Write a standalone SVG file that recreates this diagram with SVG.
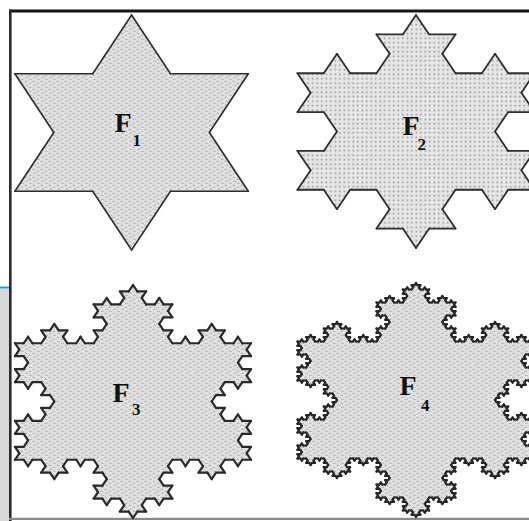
<svg xmlns="http://www.w3.org/2000/svg" width="529" height="521" viewBox="0 0 529 521">
<style>
.lbl{font-family:"Liberation Serif","Times New Roman",serif;font-weight:bold;fill:#111}
.F{font-size:28px}
.sub{font-size:17px}
.edge{fill:none;stroke-linecap:round;stroke-linejoin:round}
.mk{fill:#fff;stroke:#fff;stroke-width:0.8}
</style>
<defs>
<pattern id="tex" width="8" height="8" patternUnits="userSpaceOnUse">
<rect width="8" height="8" fill="#e2e2e2"/>
<path d="M0.5 2 l1.5 -1.2 l1.2 1.2 M4.5 4 l1.5 -1.2 l1.2 1.2 M1.3 6 l1.5 -1.2 l1.2 1.2 M5 8 l1.5 -1.2 l1.2 1.2 M5 0 l1.5 -1.2 l1.2 1.2" fill="none" stroke="#9c9c9c" stroke-width="0.8"/>
</pattern>
<pattern id="dots" width="4.5" height="4.5" patternUnits="userSpaceOnUse">
<rect width="4.5" height="4.5" fill="#e6e6e6"/>
<circle cx="2.25" cy="2.25" r="0.9" fill="#8f8f8f"/>
</pattern>
<path id="C0" d="M0 0H1" fill="none" vector-effect="non-scaling-stroke"/>
<g id="C1"><use href="#C0" transform="scale(0.33333333)"/><use href="#C0" transform="translate(0.33333333 0) rotate(-60) scale(0.33333333)"/><use href="#C0" transform="translate(0.5 -0.28867513) rotate(60) scale(0.33333333)"/><use href="#C0" transform="translate(0.66666667 0) scale(0.33333333)"/></g>
<g id="C2"><use href="#C1" transform="scale(0.33333333)"/><use href="#C1" transform="translate(0.33333333 0) rotate(-60) scale(0.33333333)"/><use href="#C1" transform="translate(0.5 -0.28867513) rotate(60) scale(0.33333333)"/><use href="#C1" transform="translate(0.66666667 0) scale(0.33333333)"/></g>
<g id="C3"><use href="#C2" transform="scale(0.33333333)"/><use href="#C2" transform="translate(0.33333333 0) rotate(-60) scale(0.33333333)"/><use href="#C2" transform="translate(0.5 -0.28867513) rotate(60) scale(0.33333333)"/><use href="#C2" transform="translate(0.66666667 0) scale(0.33333333)"/></g>
<g id="C4"><use href="#C3" transform="scale(0.33333333)"/><use href="#C3" transform="translate(0.33333333 0) rotate(-60) scale(0.33333333)"/><use href="#C3" transform="translate(0.5 -0.28867513) rotate(60) scale(0.33333333)"/><use href="#C3" transform="translate(0.66666667 0) scale(0.33333333)"/></g>
<path id="B1" d="M0.33333333 0L0.5 -0.28867513L0.66666667 0Z" vector-effect="non-scaling-stroke"/>
<g id="B2"><use href="#B1"/><use href="#B1" transform="scale(0.33333333)"/><use href="#B1" transform="translate(0.33333333 0) rotate(-60) scale(0.33333333)"/><use href="#B1" transform="translate(0.5 -0.28867513) rotate(60) scale(0.33333333)"/><use href="#B1" transform="translate(0.66666667 0) scale(0.33333333)"/></g>
<g id="B3"><use href="#B1"/><use href="#B2" transform="scale(0.33333333)"/><use href="#B2" transform="translate(0.33333333 0) rotate(-60) scale(0.33333333)"/><use href="#B2" transform="translate(0.5 -0.28867513) rotate(60) scale(0.33333333)"/><use href="#B2" transform="translate(0.66666667 0) scale(0.33333333)"/></g>
<g id="B4"><use href="#B1"/><use href="#B3" transform="scale(0.33333333)"/><use href="#B3" transform="translate(0.33333333 0) rotate(-60) scale(0.33333333)"/><use href="#B3" transform="translate(0.5 -0.28867513) rotate(60) scale(0.33333333)"/><use href="#B3" transform="translate(0.66666667 0) scale(0.33333333)"/></g>
<path id="T" d="M0 -1L0.8660254 0.5L-0.8660254 0.5Z" vector-effect="non-scaling-stroke"/>
<g id="S1"><use href="#T"/><use href="#B1" transform="translate(0 -1) rotate(60) scale(1.7320508)"/><use href="#B1" transform="translate(0.8660254 0.5) rotate(180) scale(1.7320508)"/><use href="#B1" transform="translate(-0.8660254 0.5) rotate(-60) scale(1.7320508)"/></g>
<g id="S2"><use href="#T"/><use href="#B2" transform="translate(0 -1) rotate(60) scale(1.7320508)"/><use href="#B2" transform="translate(0.8660254 0.5) rotate(180) scale(1.7320508)"/><use href="#B2" transform="translate(-0.8660254 0.5) rotate(-60) scale(1.7320508)"/></g>
<g id="S3"><use href="#T"/><use href="#B3" transform="translate(0 -1) rotate(60) scale(1.7320508)"/><use href="#B3" transform="translate(0.8660254 0.5) rotate(180) scale(1.7320508)"/><use href="#B3" transform="translate(-0.8660254 0.5) rotate(-60) scale(1.7320508)"/></g>
<g id="S4"><use href="#T"/><use href="#B4" transform="translate(0 -1) rotate(60) scale(1.7320508)"/><use href="#B4" transform="translate(0.8660254 0.5) rotate(180) scale(1.7320508)"/><use href="#B4" transform="translate(-0.8660254 0.5) rotate(-60) scale(1.7320508)"/></g>
<g id="O1"><use href="#C1" transform="translate(0 -1) rotate(60) scale(1.7320508)"/><use href="#C1" transform="translate(0.8660254 0.5) rotate(180) scale(1.7320508)"/><use href="#C1" transform="translate(-0.8660254 0.5) rotate(-60) scale(1.7320508)"/></g>
<g id="O2"><use href="#C2" transform="translate(0 -1) rotate(60) scale(1.7320508)"/><use href="#C2" transform="translate(0.8660254 0.5) rotate(180) scale(1.7320508)"/><use href="#C2" transform="translate(-0.8660254 0.5) rotate(-60) scale(1.7320508)"/></g>
<g id="O3"><use href="#C3" transform="translate(0 -1) rotate(60) scale(1.7320508)"/><use href="#C3" transform="translate(0.8660254 0.5) rotate(180) scale(1.7320508)"/><use href="#C3" transform="translate(-0.8660254 0.5) rotate(-60) scale(1.7320508)"/></g>
<g id="O4"><use href="#C4" transform="translate(0 -1) rotate(60) scale(1.7320508)"/><use href="#C4" transform="translate(0.8660254 0.5) rotate(180) scale(1.7320508)"/><use href="#C4" transform="translate(-0.8660254 0.5) rotate(-60) scale(1.7320508)"/></g>
<mask id="m1" maskUnits="userSpaceOnUse" x="0" y="0" width="529" height="521"><use href="#S1" class="mk" transform="translate(131.6 132.5) scale(134.77 117.5)"/></mask>
<mask id="m2" maskUnits="userSpaceOnUse" x="0" y="0" width="529" height="521"><use href="#S2" class="mk" transform="translate(416 131.5) scale(136.9 116.5)"/></mask>
<mask id="m3" maskUnits="userSpaceOnUse" x="0" y="0" width="529" height="521"><use href="#S3" class="mk" transform="translate(133 401.5) scale(136.3 116.5)"/></mask>
<mask id="m4" maskUnits="userSpaceOnUse" x="0" y="0" width="529" height="521"><use href="#S4" class="mk" transform="translate(416 400) scale(136.9 117)"/></mask>
</defs>
<g id="frame">
<rect x="0" y="0" width="529" height="521" fill="#fff"/>
<rect x="0" y="288.5" width="9" height="232.5" fill="#d9d9d9"/>
<rect x="0" y="286.5" width="9" height="2" fill="#239fd8"/>
<rect x="9" y="9.5" width="520" height="3" fill="#141414"/>
<rect x="9" y="9.5" width="2.6" height="511.5" fill="#2a2a2a"/>
<rect x="9" y="517.8" width="520" height="2.2" fill="#8a8a8a"/>
</g>
<g id="F1">
<rect x="0" y="0" width="529" height="521" fill="url(#tex)" mask="url(#m1)"/>
<use href="#O1" class="edge" stroke="#2e2e2e" stroke-width="1.6" transform="translate(131.6 132.5) scale(134.77 117.5)"/>
<text class="lbl F" x="114.5" y="132">F<tspan class="sub" x="132.5" y="146">1</tspan></text>
</g>
<g id="F2">
<rect x="0" y="0" width="529" height="521" fill="url(#dots)" mask="url(#m2)"/>
<use href="#O2" class="edge" stroke="#2e2e2e" stroke-width="1.8" transform="translate(416 131.5) scale(136.9 116.5)"/>
<text class="lbl F" x="402.5" y="135">F<tspan class="sub" x="417.5" y="150">2</tspan></text>
</g>
<g id="F3">
<rect x="0" y="0" width="529" height="521" fill="url(#tex)" mask="url(#m3)"/>
<use href="#O3" class="edge" stroke="#2a2a2a" stroke-width="2.2" transform="translate(133 401.5) scale(136.3 116.5)"/>
<text class="lbl F" x="112.5" y="402">F<tspan class="sub" x="132" y="415">3</tspan></text>
</g>
<g id="F4">
<rect x="0" y="0" width="529" height="521" fill="url(#tex)" mask="url(#m4)"/>
<use href="#O4" class="edge" stroke="#262626" stroke-width="2.2" transform="translate(416 400) scale(136.9 117)"/>
<text class="lbl F" x="399.5" y="395">F<tspan class="sub" x="421" y="411">4</tspan></text>
</g>
</svg>
